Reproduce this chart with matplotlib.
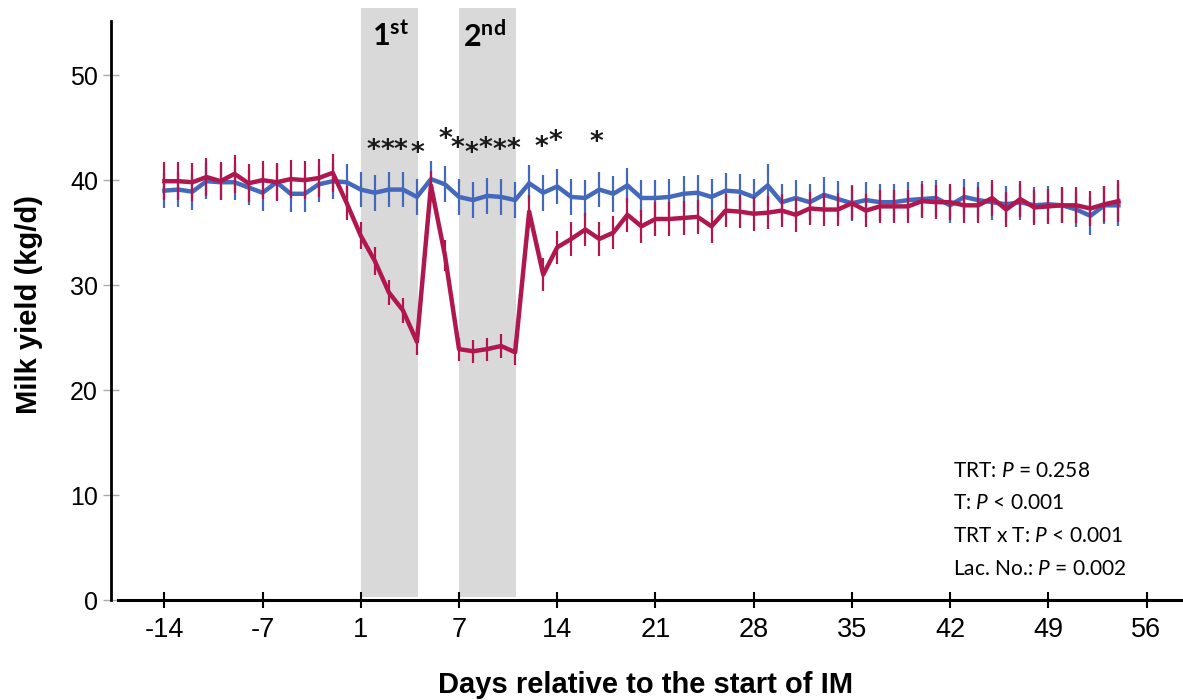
import numpy as np
import matplotlib
matplotlib.use("Agg")
import matplotlib.pyplot as plt

plt.rcParams['mathtext.fontset'] = 'custom'
plt.rcParams['mathtext.rm'] = 'Lato'
plt.rcParams['mathtext.it'] = 'Lato:italic'
plt.rcParams['mathtext.bf'] = 'Lato:bold'

# ---- data ----
day_labels = ['-14', '-7', '1', '7', '14', '21', '28', '35', '42', '49', '56']

# control cows (blue)
ctrl_mean = [39.0, 39.1, 38.9, 39.9, 39.8, 39.8, 39.3, 38.8, 39.8, 38.7,
             38.7, 39.6, 39.9, 39.8, 39.1, 38.8, 39.1, 39.1, 38.4,
             40.1, 39.6, 38.4, 38.1, 38.5, 38.4, 38.1, 39.7, 38.8, 39.4,
             38.4, 38.3, 39.1, 38.7, 39.5, 38.3, 38.3, 38.4, 38.7, 38.8,
             38.4, 39.0, 38.9, 38.4, 39.5, 37.9, 38.3, 37.9, 38.6, 38.2,
             37.8, 38.1, 37.9, 37.9, 38.1, 38.2,
             38.3, 37.6, 38.4, 38.1, 37.9, 37.7, 37.9, 37.6, 37.7, 37.6,
             37.2, 36.6, 37.6, 37.6]
ctrl_se = [1.7] * 43 + [2.0] + [1.7] * 22 + [1.8, 1.8, 2.0]

# intramammary challenge cows (red)
im_mean = [39.9, 39.9, 39.8, 40.3, 39.9, 40.6, 39.7, 40.0, 39.8, 40.1,
           40.0, 40.2, 40.7,
           37.8, 34.7, 32.3, 29.3, 27.6, 24.6,
           39.5, 32.8, 23.9, 23.7, 23.9, 24.2, 23.6,
           37.0, 31.0, 33.6, 34.4, 35.3, 34.4, 35.0, 36.7, 35.6, 36.3,
           36.3, 36.4, 36.5,
           35.6, 37.1, 37.0, 36.8, 36.9, 37.1, 36.7, 37.3, 37.2, 37.2,
           37.8, 37.1, 37.5, 37.5, 37.5, 38.0,
           37.9, 37.9, 37.6, 37.6, 38.3, 37.2, 38.2, 37.4, 37.5, 37.6,
           37.6, 37.3, 37.7, 38.0]
im_se = ([1.8] * 13 + [1.6, 1.3, 1.3, 1.2, 1.2, 1.3]
         + [1.4, 1.5, 1.1, 1.1, 1.1, 1.1, 1.2]
         + [1.6] * 30 + [1.7] * 12 + [2.0])

star_x = [14.9, 15.9, 16.8, 18.0, 20.0, 20.9, 21.9, 22.9, 23.9, 24.9, 26.9, 27.9, 30.8]
star_y = [43.6, 43.6, 43.6, 43.3, 44.7, 43.8, 43.3, 43.8, 43.6, 43.7, 43.9, 44.5, 44.4]

stats_lines = ['TRT: $P$ = 0.258', 'T: $P$ < 0.001',
               'TRT x T: $P$ < 0.001', 'Lac. No.: $P$ = 0.002']

x = np.arange(len(im_mean))

fig = plt.figure(figsize=(11.83, 7.0), dpi=100)
ax = fig.add_axes([110.5 / 1183, 1 - 600 / 700, 1 - 110.5 / 1183, 592 / 700])

# IM periods
ax.fill_between([14, 18.1], 0.3, 56.4, color='#d9d9d9', lw=0, zorder=0)
ax.fill_between([21, 25.05], 0.3, 56.4, color='#d9d9d9', lw=0, zorder=0)

blue = '#4468bb'
red = '#b0174f'
ax.errorbar(x, ctrl_mean, yerr=ctrl_se, color=blue, lw=3.2, elinewidth=1.6,
            capsize=0, zorder=2)
ax.errorbar(x, im_mean, yerr=im_se, color=red, lw=3.2, elinewidth=1.6,
            capsize=0, zorder=3)

# significance stars (glyph sits above the text box centre, hence the shift)
for sx, sy in zip(star_x, star_y):
    ax.text(sx, sy - 0.85, '*', ha='center', va='center', fontsize=19,
            family='DejaVu Sans', fontweight='bold', color='#1a1a1a')

ax.text(16.1, 53.6, r'$\mathbf{1^{st}}$', ha='center', va='center', fontsize=22)
ax.text(22.8, 53.6, r'$\mathbf{2^{nd}}$', ha='center', va='center', fontsize=22)

for i, s in enumerate(stats_lines):
    ax.text(56.2, 12.3 - i * 3.1, s, ha='left', va='center', fontsize=15,
            family='Lato')

ax.set_xlim(-3.84, 72.6)
ax.set_ylim(0, 56.4)
ax.set_xticks(np.arange(0, 71, 7))
ax.set_xticklabels(day_labels)
ax.set_yticks([0, 10, 20, 30, 40, 50])

for s in ['top', 'right']:
    ax.spines[s].set_visible(False)
ax.spines['left'].set_linewidth(2)
ax.spines['bottom'].set_linewidth(2.2)
ax.spines['left'].set_bounds(0, 55.2)
ax.spines['bottom'].set_bounds(-3.3, 72.6)

ax.tick_params(axis='x', direction='inout', length=11, width=1.5,
               labelsize=19.5, pad=7)
ax.tick_params(axis='y', direction='inout', length=12, width=1,
               color='#aaaaaa', labelsize=18, pad=3)
for lab in ax.get_xticklabels() + ax.get_yticklabels():
    lab.set_family('Liberation Sans')

fig.text(646 / 1183, 1 - 685 / 700, 'Days relative to the start of IM',
         ha='center', va='center', fontsize=21, fontweight='bold',
         family='Liberation Sans')
fig.text(29 / 1183, 1 - 304 / 700, 'Milk yield (kg/d)', ha='center',
         va='center', rotation=90, fontsize=21, fontweight='bold',
         family='Liberation Sans')

fig.savefig('out.png', dpi=100)
